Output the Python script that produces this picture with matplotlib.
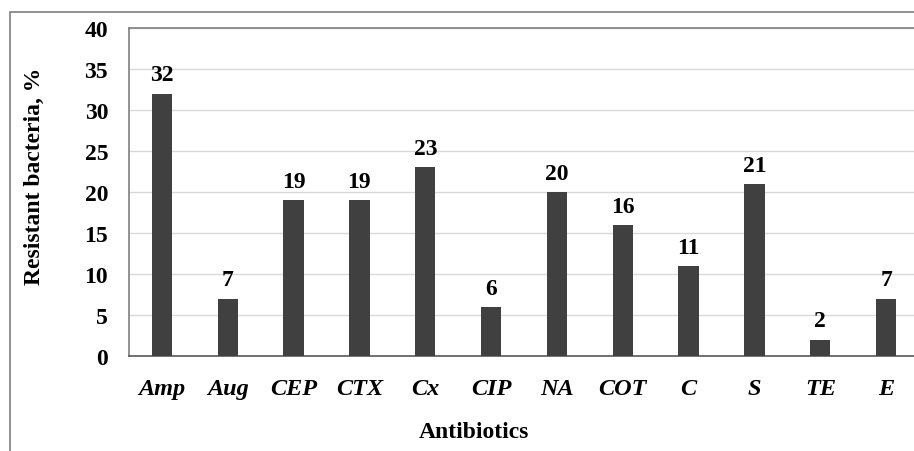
import matplotlib.pyplot as plt
from matplotlib.patches import Rectangle

antibiotics = ['Amp', 'Aug', 'CEP', 'CTX', 'Cx', 'CIP', 'NA', 'COT', 'C', 'S', 'TE', 'E']
resistant = [32, 7, 19, 19, 23, 6, 20, 16, 11, 21, 2, 7]
yticks = [0, 5, 10, 15, 20, 25, 30, 35, 40]

plt.rcParams['font.family'] = ['Liberation Serif', 'DejaVu Serif']
plt.rcParams['font.weight'] = 'bold'

W, H = 914, 452
fig = plt.figure(figsize=(W / 100, H / 100), dpi=100)

# outer chart frame, runs off the right and bottom edges
fig.patches.append(Rectangle((10 / W, -0.1), 1.2, 1 - 13 / H + 0.1,
                             transform=fig.transFigure, fill=False,
                             edgecolor='#7f7f7f', linewidth=1.2))

ax = fig.add_axes([129 / W, 1 - 357 / H, 790 / W, (357 - 29) / H])
x = range(len(antibiotics))
ax.bar(x, resistant, width=0.31, color='#404040', zorder=3)
for xi, v in zip(x, resistant):
    ax.text(xi, v + 1.6, str(v), ha='center', va='baseline',
            fontsize=17, fontweight='bold')

ax.set_xlim(-0.5, len(antibiotics) - 0.5)
ax.set_ylim(0, 40)
ax.set_yticks(yticks)
ax.set_xticks(list(x))
ax.set_xticklabels(antibiotics, fontsize=17.5, fontstyle='italic', fontweight='bold')
ax.tick_params(axis='y', labelsize=17, length=0, pad=15)
ax.tick_params(axis='x', length=0, pad=16)
ax.grid(axis='y', color='#d9d9d9', linewidth=1, zorder=0)
for s in ax.spines.values():
    s.set_color('#7f7f7f')
    s.set_linewidth(1.2)
ax.spines['bottom'].set_color('#595959')

fig.text(474 / W, 1 - 438 / H, 'Antibiotics', ha='center', va='baseline',
         fontsize=17, fontweight='bold')
fig.text(34 / W, 1 - 176 / H, 'Resistant bacteria, %', rotation=90,
         ha='center', va='center', fontsize=17, fontweight='bold')

fig.savefig('out.png', dpi=100)
